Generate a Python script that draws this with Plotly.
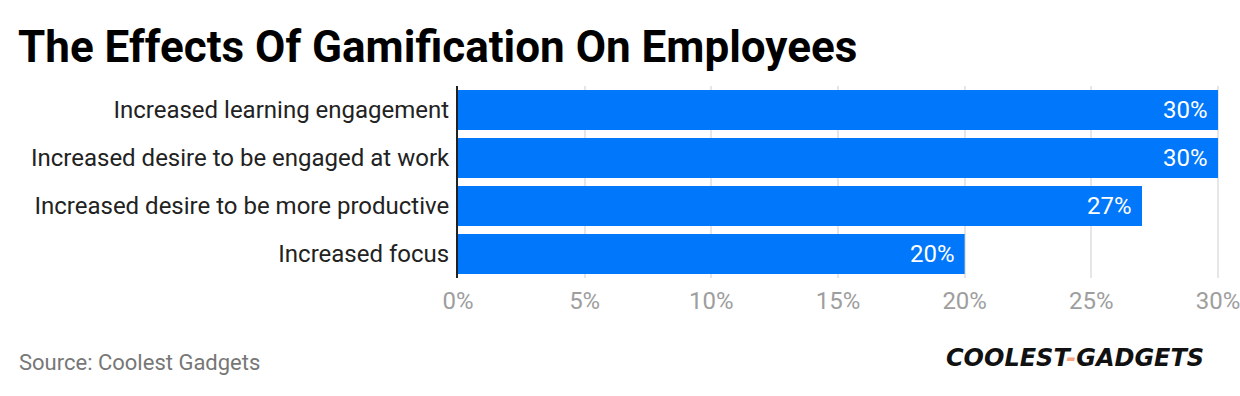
import plotly.graph_objects as go

categories = ["Increased learning engagement", "Increased desire to be engaged at work",
              "Increased desire to be more productive", "Increased focus"]
values = [30, 30, 27, 20]
tick_vals = [0, 5, 10, 15, 20, 25, 30]
tick_text = ["0%", "5%", "10%", "15%", "20%", "25%", "30%"]

fig = go.Figure(go.Bar(
    y=categories, x=values, orientation="h",
    marker=dict(color="#0177FB", line=dict(width=0)),
    hoverinfo="x+y",
))

W, H = 1240, 396
l, r, t, b = 458, 21, 86, 118
pw, ph = W - l - r, H - t - b
def px(x): return (x - l) / pw
def py(y): return 1 - (y - t) / ph

anns = [
    dict(text="<b>The Effects Of Gamification On Employees</b>", x=px(16), y=py(47),
         xref="paper", yref="paper", xanchor="left", yanchor="middle", showarrow=False,
         font=dict(family="Roboto", size=44, color="#000000")),
    dict(text="Source: Coolest Gadgets", x=px(17), y=py(362),
         xref="paper", yref="paper", xanchor="left", yanchor="middle", showarrow=False,
         font=dict(family="Roboto", size=22, color="#777777")),
    dict(text="<b><i>COOLEST<span style='color:#F4A582'>-</span>GADGETS</i></b>",
         x=px(1075), y=py(358), xref="paper", yref="paper", xanchor="center", yanchor="middle",
         showarrow=False, font=dict(family="DejaVu Sans", size=24, color="#111111")),
]
for c, v in zip(categories, values):
    anns.append(dict(text=f"{v}%", x=v, y=c, xref="x", yref="y", xanchor="right",
                     yanchor="middle", xshift=-8, showarrow=False,
                     font=dict(family="Roboto", size=24, color="white")))

fig.update_layout(
    width=W, height=H,
    margin=dict(l=l, r=r, t=t, b=b, autoexpand=False),
    paper_bgcolor="white", plot_bgcolor="white",
    bargap=8/48,
    showlegend=False,
    font=dict(family="Roboto"),
    xaxis=dict(range=[0, 30.04], tickvals=tick_vals, ticktext=tick_text,
               showgrid=True, gridcolor="#e6e6e6", gridwidth=2,
               zeroline=False, showline=False, automargin=False,
               ticklabeloverflow="allow",
               tickfont=dict(family="Roboto", size=24, color="#9e9e9e"),
               ticklabelstandoff=6, fixedrange=True),
    yaxis=dict(autorange="reversed", showgrid=False, zeroline=False,
               showline=True, linecolor="#222222", linewidth=2, automargin=False,
               tickfont=dict(family="Roboto", size=24, color="#222222"),
               ticklabelstandoff=2, fixedrange=True),
    annotations=anns,
)

fig.write_html("out.html")
